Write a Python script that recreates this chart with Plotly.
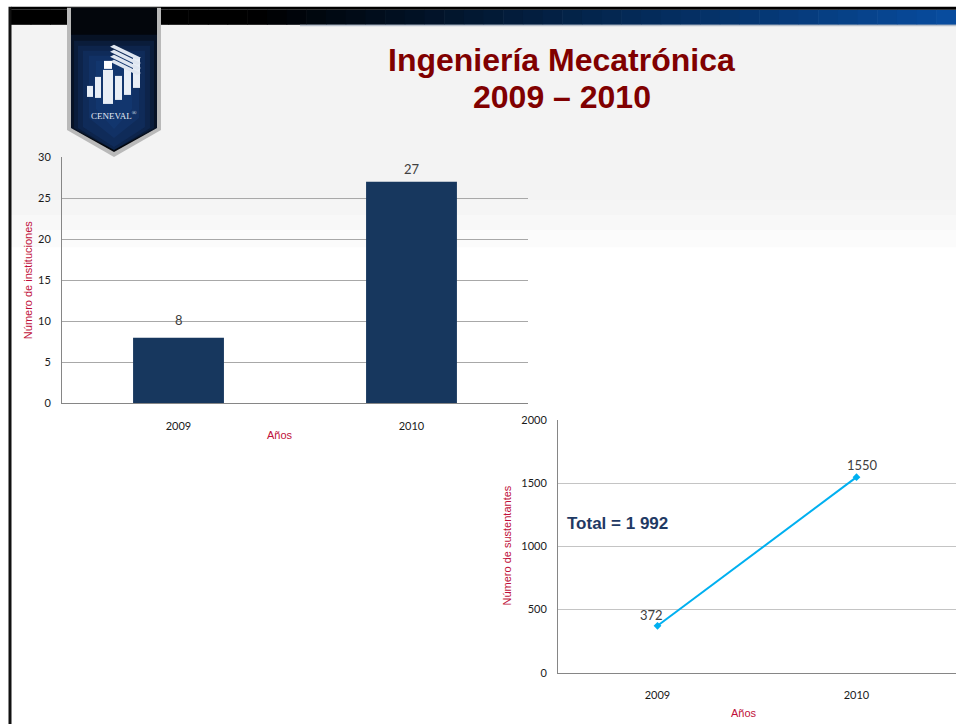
import plotly.graph_objects as go

W, H = 956, 724

# ---------------- data ----------------
years = ["2009", "2010"]
instituciones = [8, 27]
sustentantes = [372, 1550]
inst_ticks = [0, 5, 10, 15, 20, 25, 30]
sust_ticks = [0, 500, 1000, 1500, 2000]
title_line1 = "Ingeniería Mecatrónica"
title_line2 = "2009 – 2010"
total_label = "Total = 1 992"
ytitle_1 = "Número de instituciones"
ytitle_2 = "Número de sustentantes"
xtitle = "Años"

# vertical placement correction measured from the rendered page
VOFF, VSCALE = 7.2, 0.9807


def X(px):
    return px / W


def Y(py):
    return 1 - ((py - VOFF) / VSCALE) / H


TICKFONT = dict(family="Lato, Open Sans, Liberation Sans, sans-serif", size=11, color="#1a1a1a")
RED = "#C0103A"

fig = go.Figure()

fig.add_trace(go.Bar(
    x=years, y=instituciones, width=0.39,
    marker=dict(color="#17375E", line=dict(width=0)),
    xaxis="x", yaxis="y", hoverinfo="skip", showlegend=False,
))
fig.add_trace(go.Scatter(
    x=years, y=sustentantes, mode="lines+markers",
    line=dict(color="#00B0F0", width=2),
    marker=dict(symbol="diamond", size=6, color="#00B0F0"),
    xaxis="x2", yaxis="y2", hoverinfo="skip", showlegend=False,
))

shapes = []

# textured light background band near the top
bands = [(25, 200, 1.0), (200, 215, 0.8), (215, 230, 0.55), (230, 247, 0.3)]
for y0, y1, op in bands:
    shapes.append(dict(type="rect", xref="paper", yref="paper", x0=X(11), x1=1,
                       y0=Y(y1), y1=Y(y0), fillcolor="#F3F3F3", opacity=op,
                       line=dict(width=0), layer="below"))

# header bar: gradient black -> blue, built from slices
n = 48
x_start = 11
for i in range(n):
    xa = x_start + (W - x_start) * i / n
    xb = x_start + (W - x_start) * (i + 1) / n + 0.6
    t = i / (n - 1)
    k = max(0.0, (t - 0.25) / 0.75)
    r = int(8 * k)
    g = int(76 * k)
    b = int(158 * k)
    shapes.append(dict(type="rect", xref="paper", yref="paper", x0=X(xa), x1=X(xb),
                       y0=Y(25), y1=Y(10), fillcolor=f"rgb({r},{g},{b})",
                       line=dict(width=0), layer="below"))
shapes.append(dict(type="rect", xref="paper", yref="paper", x0=X(x_start), x1=1,
                   y0=Y(10), y1=Y(7), fillcolor="#000000", line=dict(width=0), layer="below"))
shapes.append(dict(type="rect", xref="paper", yref="paper", x0=X(300), x1=1,
                   y0=Y(26.5), y1=Y(24.5), fillcolor="#7f8fa6", opacity=0.5,
                   line=dict(width=0), layer="below"))

# left border line
shapes.append(dict(type="rect", xref="paper", yref="paper", x0=X(8.5), x1=X(11.5),
                   y0=Y(730), y1=Y(7), fillcolor="#111111", line=dict(width=0), layer="below"))


def poly(pts):
    return "M " + " L ".join(f"{X(px):.5f},{Y(py):.5f}" for px, py in pts) + " Z"


# CENEVAL banner
shapes.append(dict(type="path", xref="paper", yref="paper",
                   path=poly([(67, 8), (161, 8), (161, 130), (114, 157), (67, 130)]),
                   fillcolor="#b9b9b9", line=dict(width=0), layer="above"))
shapes.append(dict(type="path", xref="paper", yref="paper",
                   path=poly([(71, 8), (157, 8), (157, 128), (114, 152), (71, 128)]),
                   fillcolor="#03060c", line=dict(width=0), layer="above"))
glow = [(43, 60, 95, 0.18), (40, 52, 93, 0.18), (36, 45, 91, 0.18), (31, 38, 89, 0.18),
        (25, 31, 87, 0.18), (18, 24, 85, 0.18)]
for rx, ry, cy, op in glow:
    shapes.append(dict(type="path", xref="paper", yref="paper",
                       path=poly([(114 - rx, max(8, cy - ry)), (114 + rx, max(8, cy - ry)),
                                  (114 + rx, min(128, cy + ry)), (114, min(150, cy + ry + 20)),
                                  (114 - rx, min(128, cy + ry))]),
                       fillcolor="#1a4f9a", opacity=op, line=dict(width=0), layer="above"))
# stylised building icon
icon_rects = [(87, 86, 93, 97), (95, 77, 101, 98), (103, 70, 113, 104),
              (115, 76, 122, 100), (124, 68, 131, 95), (133, 58, 140, 88)]
for x0, y0, x1, y1 in icon_rects:
    shapes.append(dict(type="rect", xref="paper", yref="paper", x0=X(x0), x1=X(x1),
                       y0=Y(y1), y1=Y(y0), fillcolor="#e8eef6", line=dict(width=0), layer="above"))
for j in range(4):
    dy = j * 5
    shapes.append(dict(type="path", xref="paper", yref="paper",
                       path=poly([(110, 47 + dy), (114, 45 + dy), (141, 58 + dy), (137, 60 + dy)]),
                       fillcolor="#dfe6f0", line=dict(width=0), layer="above"))
shapes.append(dict(type="rect", xref="paper", yref="paper", x0=X(104), x1=X(112),
                   y0=Y(69), y1=Y(61), fillcolor="#ffffff", line=dict(width=0), layer="above"))

annotations = []

# title
TITLEFONT = dict(family="Liberation Sans, Arial, sans-serif", size=32, color="#800000")
annotations.append(dict(text=f"<b>{title_line1}</b>", xref="paper", yref="paper",
                        x=X(561), y=Y(60), showarrow=False, xanchor="center", yanchor="middle",
                        font=TITLEFONT))
annotations.append(dict(text=f"<b>{title_line2}</b>", xref="paper", yref="paper",
                        x=X(562), y=Y(97), showarrow=False, xanchor="center", yanchor="middle",
                        font=TITLEFONT))
annotations.append(dict(text="CENEVAL<sup>®</sup>", xref="paper", yref="paper",
                        x=X(114), y=Y(115), showarrow=False, xanchor="center", yanchor="middle",
                        font=dict(family="Liberation Serif, DejaVu Serif, serif", size=9, color="#e6ecf5")))

# axis titles
AXFONT = dict(family="Liberation Sans, Arial, sans-serif", size=11, color=RED)
annotations.append(dict(text=ytitle_1, xref="paper", yref="paper", x=X(28), y=Y(280),
                        textangle=-90, showarrow=False, xanchor="center", yanchor="middle", font=AXFONT))
annotations.append(dict(text=xtitle, xref="paper", yref="paper", x=X(280), y=Y(435),
                        showarrow=False, xanchor="center", yanchor="middle", font=AXFONT))
annotations.append(dict(text=ytitle_2, xref="paper", yref="paper", x=X(507), y=Y(545),
                        textangle=-90, showarrow=False, xanchor="center", yanchor="middle", font=AXFONT))
annotations.append(dict(text=xtitle, xref="paper", yref="paper", x=X(744), y=Y(712),
                        showarrow=False, xanchor="center", yanchor="middle", font=AXFONT))

# data labels (category index positions)
LABELFONT = dict(family="Lato, Open Sans, Liberation Sans, sans-serif", size=13, color="#404040")
bar_shifts = [17.5, 13]
for i, (v, sy) in enumerate(zip(instituciones, bar_shifts)):
    annotations.append(dict(text=str(v), x=i, y=v, xref="x", yref="y", showarrow=False,
                            yshift=sy, xanchor="center", yanchor="middle", font=LABELFONT))
line_shifts = [(-6, 10.5), (5.5, 12.5)]
for i, (v, (sx, sy)) in enumerate(zip(sustentantes, line_shifts)):
    annotations.append(dict(text=str(v), x=i, y=v, xref="x2", yref="y2", showarrow=False,
                            xshift=sx, yshift=sy, xanchor="center", yanchor="middle", font=LABELFONT))

annotations.append(dict(text=f"<b>{total_label}</b>", xref="paper", yref="paper",
                        x=X(565), y=Y(523), showarrow=False, xanchor="left", yanchor="middle",
                        font=dict(family="Liberation Sans, Arial, sans-serif", size=17, color="#1F3A64")))

fig.update_layout(
    width=W, height=H,
    margin=dict(l=0, r=0, t=0, b=0),
    paper_bgcolor="#ffffff",
    plot_bgcolor="rgba(0,0,0,0)",
    showlegend=False,
    shapes=shapes,
    annotations=annotations,
    xaxis=dict(domain=[X(62), X(528)], anchor="y", type="category", range=[-0.5, 1.5],
               showline=True, linecolor="#868686", linewidth=1, showgrid=False, ticks="",
               tickfont=TICKFONT, ticklabelstandoff=12, fixedrange=True),
    yaxis=dict(domain=[Y(403), Y(157)], anchor="x", range=[0, 30], tickvals=inst_ticks,
               showline=True, linecolor="#868686", linewidth=1, showgrid=True,
               gridcolor="#A8A8A8", gridwidth=1, zeroline=False, ticks="",
               tickfont=TICKFONT, ticklabelstandoff=8, fixedrange=True),
    xaxis2=dict(domain=[X(558), 1.0], anchor="y2", type="category", range=[-0.5, 1.5],
                showline=True, linecolor="#868686", linewidth=1, showgrid=False, ticks="",
                tickfont=TICKFONT, ticklabelstandoff=12, fixedrange=True),
    yaxis2=dict(domain=[Y(672), Y(420)], anchor="x2", range=[0, 2000], tickvals=sust_ticks,
                showline=True, linecolor="#868686", linewidth=1, showgrid=True,
                gridcolor="#C4C4C4", gridwidth=1, zeroline=False, ticks="",
                tickfont=TICKFONT, ticklabelstandoff=8, fixedrange=True),
)

POST = (
    "document.documentElement.style.margin='0';"
    "document.documentElement.style.overflow='hidden';"
    "document.body.style.margin='0';"
    "document.body.style.overflow='hidden';"
    "var gd=document.getElementById('{plot_id}');"
    "gd.style.position='fixed';gd.style.left='0px';gd.style.top='0px';"
)

fig.write_html("out.html", config={"displayModeBar": False}, post_script=POST)
